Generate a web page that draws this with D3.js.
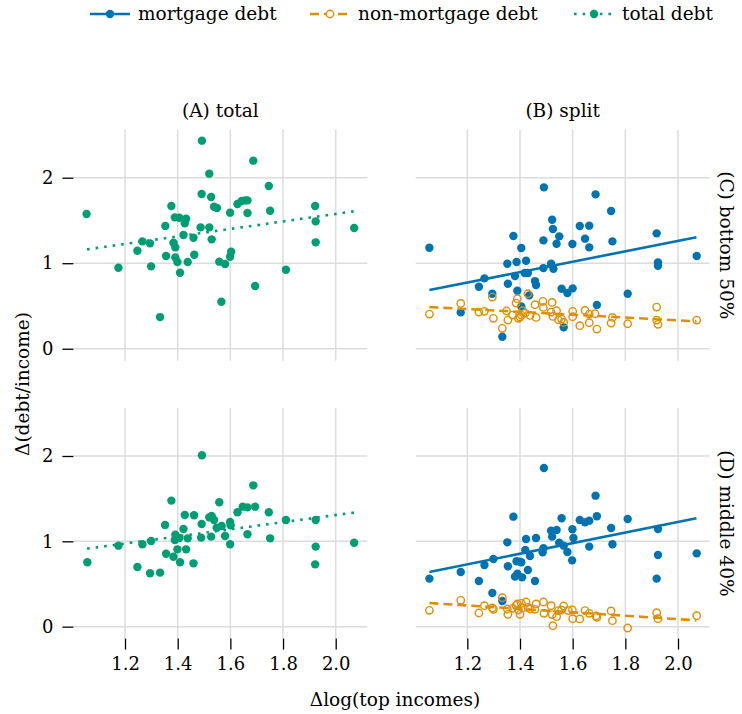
<!DOCTYPE html>
<html>
<head>
<meta charset="utf-8">
<script src="https://cdn.jsdelivr.net/npm/d3@7"></script>
<style>
body { margin: 0; background: #fff; }
text { font-family: "DejaVu Serif", "Liberation Serif", serif; fill: #000; }
</style>
</head>
<body>
<script>
// tick values and labels
var xTicks = [1.2, 1.4, 1.6, 1.8, 2.0];
var yTicks = [0, 1, 2];
var colTitles = ["(A) total", "(B) split"];
var rowLabels = ["(C) bottom 50%", "(D) middle 40%"];
var seriesNames = ["mortgage debt", "non-mortgage debt", "total debt"];

// (C) bottom 50% -- [x, y]
var bottomTotal = [[1.054,1.575],[1.175,0.947],[1.247,1.146],[1.266,1.255],[1.295,1.232],[1.299,0.963],
  [1.333,0.370],[1.353,1.435],[1.356,1.084],[1.376,1.669],[1.384,1.240],[1.389,1.536],[1.391,1.185],
  [1.391,1.068],[1.399,1.014],[1.409,0.889],[1.406,1.532],[1.422,1.329],[1.427,1.466],[1.432,1.520],
  [1.438,1.014],[1.460,1.298],[1.463,1.099],[1.487,1.419],[1.491,1.809],[1.492,2.433],[1.520,1.419],
  [1.520,2.047],[1.527,1.774],[1.529,1.279],[1.538,1.661],[1.549,1.645],[1.558,1.018],[1.566,0.550],
  [1.580,0.990],[1.599,1.076],[1.603,1.135],[1.599,1.591],[1.627,1.692],[1.643,1.727],[1.656,1.735],
  [1.665,1.735],[1.665,1.587],[1.687,2.199],[1.694,0.733],[1.746,1.903],[1.751,1.614],[1.811,0.924],
  [1.922,1.669],[1.924,1.489],[1.924,1.244],[2.070,1.411]];
var bottomMortgage = [[1.056,1.181],[1.175,0.425],[1.244,0.725],[1.265,0.823],[1.295,0.643],[1.333,0.140],
  [1.352,0.994],[1.354,0.760],[1.375,1.318],[1.381,0.850],[1.387,1.014],[1.390,0.678],[1.405,1.177],
  [1.405,0.495],[1.418,0.885],[1.423,1.029],[1.430,0.885],[1.435,0.624],[1.457,0.791],[1.461,0.745],
  [1.489,1.267],[1.489,0.943],[1.491,1.887],[1.518,0.994],[1.522,1.509],[1.525,1.400],[1.527,0.936],
  [1.539,1.228],[1.549,1.314],[1.558,0.702],[1.566,0.250],[1.580,0.651],[1.599,1.224],[1.600,0.706],
  [1.627,1.435],[1.647,1.287],[1.663,1.439],[1.663,1.185],[1.687,1.805],[1.692,0.511],[1.746,1.610],
  [1.751,1.255],[1.809,0.643],[1.919,1.349],[1.924,1.010],[1.924,0.971],[2.071,1.084]];
var bottomNonMortgage = [[1.056,0.405],[1.175,0.530],[1.244,0.429],[1.265,0.437],[1.295,0.604],[1.299,0.355],
  [1.333,0.238],[1.349,0.441],[1.354,0.335],[1.372,0.394],[1.385,0.534],[1.390,0.585],[1.394,0.355],
  [1.400,0.370],[1.405,0.394],[1.410,0.444],[1.420,0.417],[1.430,0.643],[1.438,0.390],[1.457,0.515],
  [1.461,0.366],[1.487,0.554],[1.489,0.483],[1.518,0.429],[1.522,0.542],[1.525,0.378],[1.539,0.444],
  [1.546,0.339],[1.558,0.347],[1.566,0.308],[1.600,0.437],[1.600,0.374],[1.627,0.269],[1.647,0.448],
  [1.663,0.405],[1.663,0.304],[1.685,0.409],[1.692,0.230],[1.746,0.300],[1.751,0.366],[1.809,0.292],
  [1.919,0.487],[1.919,0.335],[1.924,0.285],[2.071,0.335]];

// (D) middle 40% -- [x, y]
var middleTotal = [[1.057,0.754],[1.175,0.949],[1.247,0.699],[1.266,0.965],[1.295,0.625],[1.299,1.004],
  [1.333,0.633],[1.352,1.191],[1.356,0.855],[1.376,1.477],[1.384,0.820],[1.389,1.016],[1.391,1.078],
  [1.399,0.906],[1.406,1.039],[1.409,0.754],[1.422,1.145],[1.427,1.309],[1.432,0.906],[1.438,1.035],
  [1.462,1.305],[1.460,0.742],[1.489,1.043],[1.491,1.203],[1.492,2.008],[1.520,1.281],[1.527,1.055],
  [1.529,1.297],[1.538,1.250],[1.548,1.160],[1.558,1.457],[1.567,1.180],[1.580,1.063],[1.599,1.227],
  [1.601,1.188],[1.599,0.965],[1.627,1.340],[1.647,1.406],[1.665,1.398],[1.665,1.082],[1.687,1.656],
  [1.694,1.406],[1.746,1.340],[1.751,1.035],[1.811,1.250],[1.922,0.730],[1.924,1.250],[1.924,0.938],
  [2.070,0.984]];
var middleMortgage = [[1.056,0.563],[1.175,0.641],[1.244,0.535],[1.265,0.723],[1.295,0.395],[1.299,0.793],
  [1.333,0.301],[1.352,0.988],[1.354,0.707],[1.375,1.289],[1.381,0.586],[1.387,0.766],[1.390,0.621],
  [1.400,0.762],[1.405,0.754],[1.408,0.578],[1.420,0.898],[1.423,1.027],[1.430,0.664],[1.438,0.828],
  [1.457,0.535],[1.461,1.039],[1.486,0.871],[1.489,0.918],[1.491,1.859],[1.518,1.125],[1.522,1.055],
  [1.539,1.133],[1.558,1.270],[1.549,0.984],[1.566,0.949],[1.580,0.875],[1.599,1.141],[1.603,1.039],
  [1.598,0.777],[1.627,1.250],[1.647,1.223],[1.663,1.242],[1.663,0.938],[1.687,1.535],[1.692,1.293],
  [1.746,1.156],[1.751,0.965],[1.809,1.262],[1.919,0.563],[1.924,1.145],[1.924,0.840],[2.071,0.859]];
var middleNonMortgage = [[1.056,0.191],[1.175,0.309],[1.244,0.160],[1.265,0.246],[1.295,0.219],[1.299,0.203],
  [1.333,0.340],[1.352,0.207],[1.354,0.145],[1.372,0.215],[1.385,0.250],[1.390,0.266],[1.394,0.195],
  [1.400,0.145],[1.405,0.273],[1.410,0.219],[1.423,0.289],[1.430,0.227],[1.438,0.207],[1.457,0.203],
  [1.461,0.266],[1.489,0.289],[1.491,0.156],[1.518,0.246],[1.522,0.141],[1.525,0.012],[1.539,0.117],
  [1.546,0.188],[1.558,0.195],[1.566,0.242],[1.583,0.188],[1.599,0.195],[1.600,0.094],[1.627,0.090],
  [1.647,0.188],[1.663,0.156],[1.689,0.125],[1.692,0.109],[1.746,0.184],[1.751,0.070],[1.809,-0.016],
  [1.919,0.164],[1.924,0.094],[2.071,0.129]];

// fitted lines, read at the ends of the x range
var bottomTotalFit = [[1.056,1.162],[2.070,1.607]];
var bottomMortgageFit = [[1.056,0.686],[2.070,1.303]];
var bottomNonMortgageFit = [[1.056,0.487],[2.070,0.320]];
var middleTotalFit = [[1.056,0.914],[2.070,1.337]];
var middleMortgageFit = [[1.056,0.641],[2.070,1.271]];
var middleNonMortgageFit = [[1.056,0.277],[2.070,0.074]];

var blue = "#0173b2", orange = "#de8f05", green = "#029e73";
var styles = {
  mortgage: {color: blue, dash: null, hollow: false},
  nonmortgage: {color: orange, dash: "9,5", hollow: true},
  total: {color: green, dash: "2.6,6", hollow: false}
};

var svg = d3.select("body").append("svg").attr("width", 742).attr("height", 714);

var xDomain = [1.004, 2.12], yDomain = [-0.14, 2.56];
var colRanges = [[73.4, 367.3], [415.7, 709.6]];
var rowRanges = [[360.7, 129.8], [638.6, 408.2]];

var panels = [
  {row: 0, col: 0, series: [["total", bottomTotal, bottomTotalFit]]},
  {row: 0, col: 1, series: [["mortgage", bottomMortgage, bottomMortgageFit], ["nonmortgage", bottomNonMortgage, bottomNonMortgageFit]]},
  {row: 1, col: 0, series: [["total", middleTotal, middleTotalFit]]},
  {row: 1, col: 1, series: [["mortgage", middleMortgage, middleMortgageFit], ["nonmortgage", middleNonMortgage, middleNonMortgageFit]]}
];

var font = '"DejaVu Serif", "Liberation Serif", serif';

panels.forEach(function(p) {
  var x = d3.scaleLinear().domain(xDomain).range(colRanges[p.col]);
  var y = d3.scaleLinear().domain(yDomain).range(rowRanges[p.row]);
  var g = svg.append("g");

  // grid
  g.selectAll(".gx").data(xTicks).enter().append("line")
    .attr("x1", x).attr("x2", x)
    .attr("y1", y.range()[0]).attr("y2", y.range()[1])
    .attr("stroke", "#dcdcdc").attr("stroke-width", 1.5);
  g.selectAll(".gy").data(yTicks).enter().append("line")
    .attr("y1", y).attr("y2", y)
    .attr("x1", x.range()[0]).attr("x2", x.range()[1])
    .attr("stroke", "#dcdcdc").attr("stroke-width", 1.5);

  if (p.col == 0) {
    var ya = g.append("g").attr("transform", "translate(" + x.range()[0] + ",0)")
      .call(d3.axisLeft(y).tickValues(yTicks).tickFormat(d3.format("d")).tickSize(11).tickPadding(9));
    ya.attr("font-family", null).attr("font-size", null);
    ya.select(".domain").remove();
    ya.selectAll("line").attr("stroke", "#000").attr("stroke-width", 1.3);
    ya.selectAll("text").style("font-size", "18px").style("font-family", font);
  }
  if (p.row == 1) {
    var xa = g.append("g").attr("transform", "translate(0," + y.range()[0] + ")")
      .call(d3.axisBottom(x).tickValues(xTicks).tickFormat(d3.format(".1f")).tickSize(11).tickPadding(8));
    xa.attr("font-family", null).attr("font-size", null);
    xa.select(".domain").remove();
    xa.selectAll("line").attr("stroke", "#000").attr("stroke-width", 1.3);
    xa.selectAll("text").style("font-size", "18px").style("font-family", font);
  }

  var line = d3.line().x(function(d) { return x(d[0]); }).y(function(d) { return y(d[1]); });

  p.series.forEach(function(s) {
    var st = styles[s[0]];
    g.selectAll(null).data(s[1]).enter().append("circle")
      .attr("cx", function(d) { return x(d[0]); })
      .attr("cy", function(d) { return y(d[1]); })
      .attr("r", st.hollow ? 3.7 : 4.2)
      .attr("fill", st.hollow ? "none" : st.color)
      .attr("stroke", st.hollow ? st.color : "none")
      .attr("stroke-width", 1.4);
    g.append("path").datum(s[2]).attr("d", line)
      .attr("fill", "none").attr("stroke", st.color).attr("stroke-width", 2.6)
      .attr("stroke-dasharray", st.dash);
  });
});

// column titles
colTitles.forEach(function(t, i) {
  svg.append("text").attr("x", (colRanges[i][0] + colRanges[i][1]) / 2).attr("y", 117)
    .attr("text-anchor", "middle").style("font-size", "18.5px").text(t);
});

// row labels on the right
rowLabels.forEach(function(t, i) {
  var cy = (rowRanges[i][0] + rowRanges[i][1]) / 2;
  svg.append("text").attr("transform", "translate(720," + cy + ") rotate(90)")
    .attr("text-anchor", "middle").style("font-size", "18.5px").text(t);
});

// axis labels
svg.append("text").attr("x", 395).attr("y", 706).attr("text-anchor", "middle")
  .style("font-size", "18.5px").text("\u0394log(top incomes)");
svg.append("text").attr("transform", "translate(29,384) rotate(-90)").attr("text-anchor", "middle")
  .style("font-size", "18.5px").text("\u0394(debt/income)");

// legend
var legendX = [90, 310, 574];
["mortgage", "nonmortgage", "total"].forEach(function(k, i) {
  var st = styles[k];
  var lg = svg.append("g").attr("transform", "translate(" + legendX[i] + ",14)");
  lg.append("line").attr("x1", 0).attr("x2", 40).attr("y1", 0).attr("y2", 0)
    .attr("stroke", st.color).attr("stroke-width", 2.6).attr("stroke-dasharray", st.dash);
  lg.append("circle").attr("cx", 20).attr("cy", 0).attr("r", st.hollow ? 3.7 : 4.2)
    .attr("fill", st.hollow ? "#fff" : st.color)
    .attr("stroke", st.hollow ? st.color : "none").attr("stroke-width", 1.4);
  lg.append("text").attr("x", 48).attr("y", 6).style("font-size", "18.5px").text(seriesNames[i]);
});
</script>
</body>
</html>
